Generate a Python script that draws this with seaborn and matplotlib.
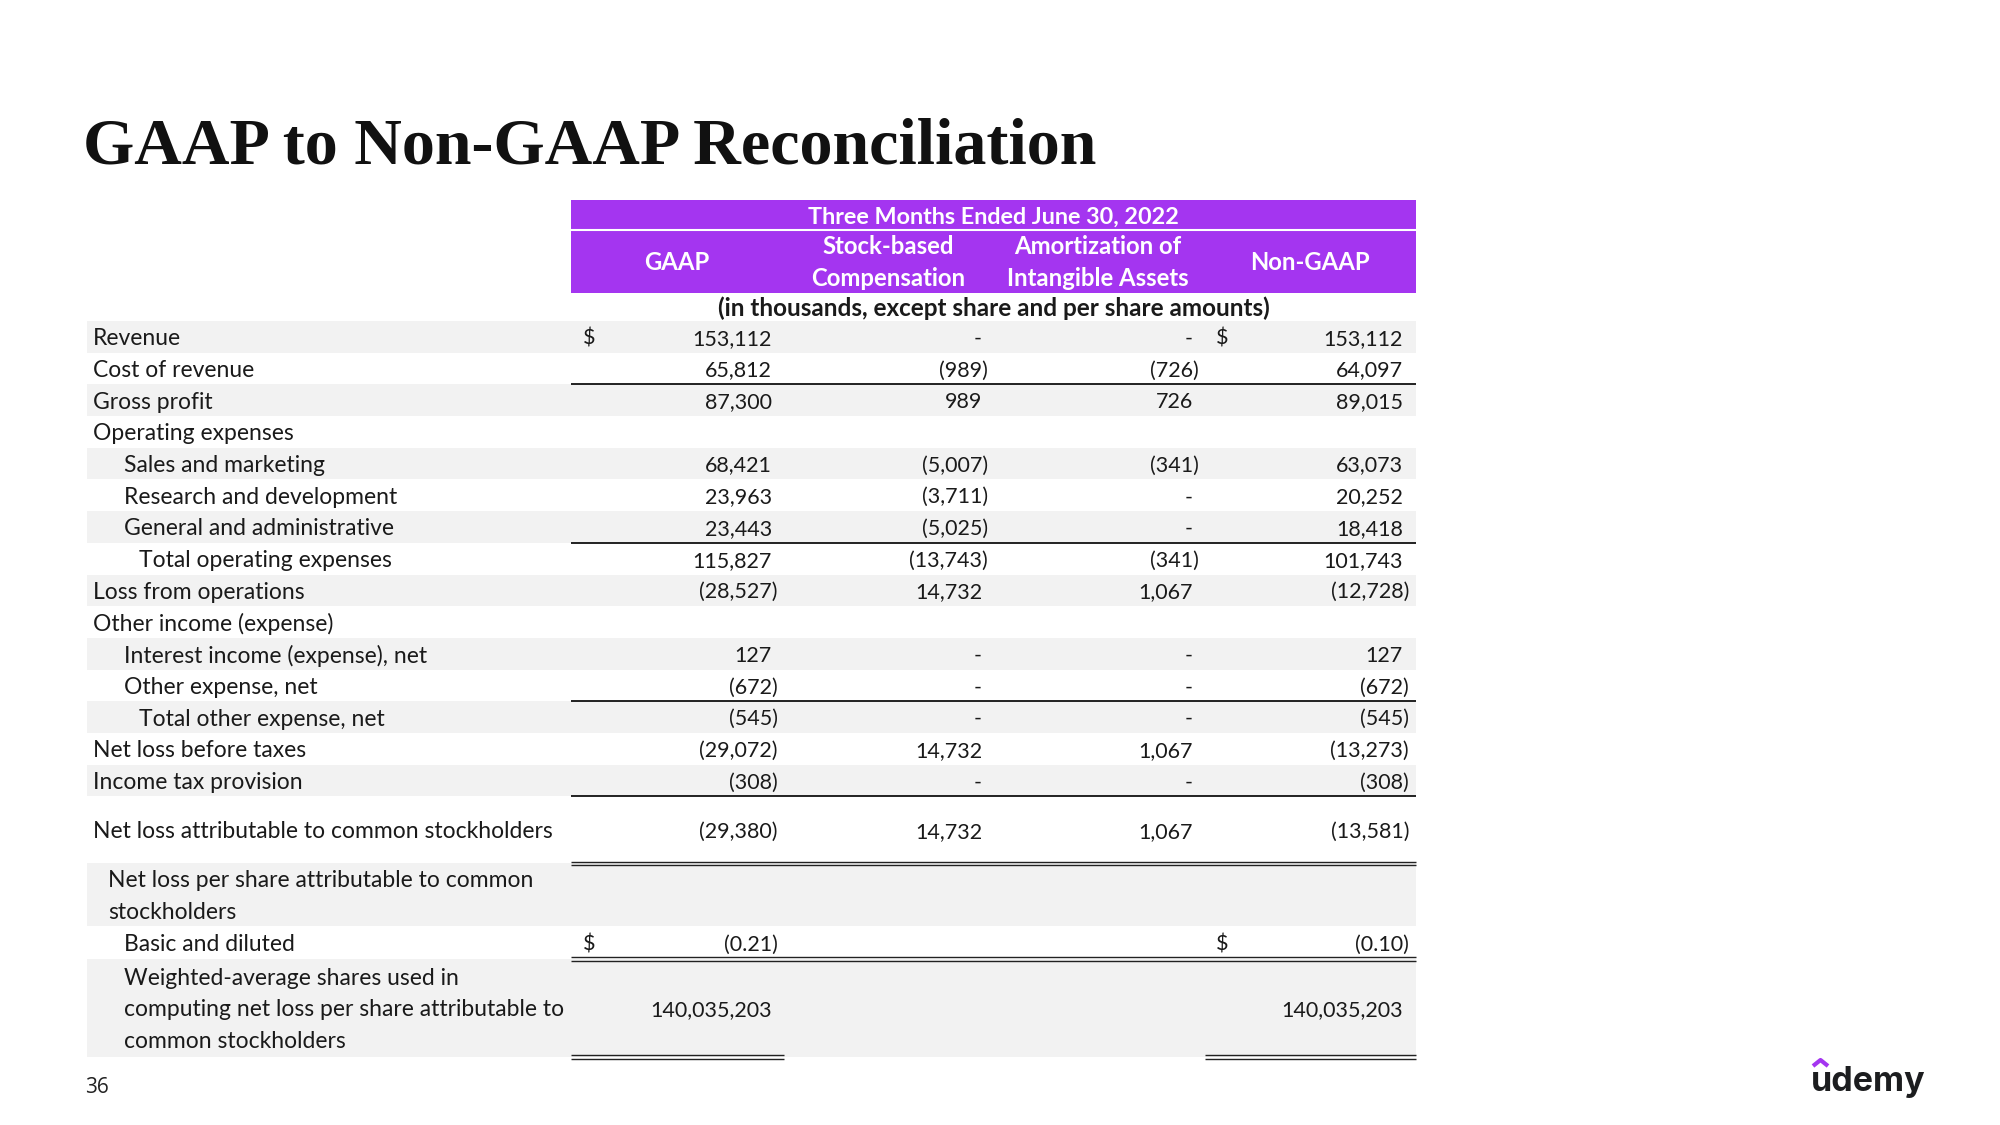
import matplotlib.pyplot as plt
import seaborn as sns

# table content
title = 'GAAP to Non-GAAP Reconciliation'
period = 'Three Months Ended June 30, 2022'
units_note = '(in thousands, except share and per share amounts)'
col_headers = ['GAAP', 'Stock-based\nCompensation', 'Amortization of\nIntangible Assets', 'Non-GAAP']
page_no = '36'

row_labels = [
    'Revenue', 'Cost of revenue', 'Gross profit', 'Operating expenses',
    'Sales and marketing', 'Research and development', 'General and administrative',
    'Total operating expenses', 'Loss from operations', 'Other income (expense)',
    'Interest income (expense), net', 'Other expense, net', 'Total other expense, net',
    'Net loss before taxes', 'Income tax provision',
    'Net loss attributable to common stockholders',
    'Net loss per share attributable to common\nstockholders',
    'Basic and diluted',
    'Weighted-average shares used in\ncomputing net loss per share attributable to\ncommon stockholders',
]
gaap = [153112, 65812, 87300, None, 68421, 23963, 23443, 115827, -28527, None,
        127, -672, -545, -29072, -308, -29380, None, -0.21, 140035203]
stock_comp = [0, -989, 989, None, -5007, -3711, -5025, -13743, 14732, None,
              0, 0, 0, 14732, 0, 14732, None, None, None]
amortization = [0, -726, 726, None, -341, 0, 0, -341, 1067, None,
                0, 0, 0, 1067, 0, 1067, None, None, None]
non_gaap = [153112, 64097, 89015, None, 63073, 20252, 18418, 101743, -12728, None,
            127, -672, -545, -13273, -308, -13581, None, -0.10, 140035203]
dollar_rows = ['Revenue', 'Basic and diluted']

# layout (pixels)
indent_px = [0, 0, 0, 0, 31, 31, 31, 46, 0, 0, 31, 31, 46, 0, 0, 0, 15, 31, 31]
row_h = [31.7] * 15 + [67, 63, 32.5, 98]
line_h = 31.9
single_under = ['Cost of revenue', 'General and administrative', 'Other expense, net',
                'Income tax provision']
double_under = ['Net loss attributable to common stockholders', 'Basic and diluted']

PURPLE = '#A435F0'
GREY = '#F2F2F2'
TXT = '#1a1a1a'
BODY = 'Lato'
FS_LAB = 16.5
FS_NUM = 15.5
FS_HEAD = 17.2

col_right = [772, 982, 1193, 1403]
col_center = [677, 888, 1098, 1310]
dollar_x = [589, 1222]
tab_l, tab_r = 571, 1416
lab_x0, band_l = 93, 87
body_top = 320.9


def fmt(v):
    if v is None:
        return ''
    if v == 0:
        return '-'
    if isinstance(v, float):
        s = f'{abs(v):.2f}'
    else:
        s = f'{abs(v):,}'
    return f'({s})' if v < 0 else s


sns.set_theme(style='white')
plt.rcParams['font.family'] = [BODY, 'DejaVu Sans']

fig = plt.figure(figsize=(20, 11.25), dpi=100)
ax = fig.add_axes([0, 0, 1, 1])
ax.set_xlim(0, 2000)
ax.set_ylim(1125, 0)
ax.axis('off')

# title
ax.text(83, 163, title, fontsize=47.5, fontweight='bold', color='#111111',
        family=['Liberation Serif', 'DejaVu Serif'], ha='left', va='baseline')

# header block
ax.fill_between([tab_l, tab_r], 200, 293, color=PURPLE, lw=0)
ax.hlines(229.5, tab_l, tab_r, color='white', lw=1.5)
ax.text((tab_l + tab_r) / 2, 215, period, color='white', fontsize=FS_HEAD - 0.4,
        fontweight='bold', ha='center', va='center_baseline')
for cx, h in zip(col_center, col_headers):
    lines = h.split('\n')
    ys = [261] if len(lines) == 1 else [245, 277]
    for y, ln in zip(ys, lines):
        ax.text(cx, y, ln, color='white', fontsize=FS_HEAD, fontweight='bold',
                ha='center', va='center_baseline')
ax.text((tab_l + tab_r) / 2, 306, units_note, color=TXT, fontsize=FS_HEAD + 0.3,
        fontweight='bold', ha='center', va='center_baseline')

# body rows
top = body_top
cols = [gaap, stock_comp, amortization, non_gaap]
for i, lab in enumerate(row_labels):
    h = row_h[i]
    bot = top + h
    yc = top + h / 2
    if i % 2 == 0:
        ax.fill_between([band_l, tab_r], top, bot, color=GREY, lw=0)
    lines = lab.split('\n')
    n = len(lines)
    for k, ln in enumerate(lines):
        ax.text(lab_x0 + indent_px[i], yc + (k - (n - 1) / 2) * line_h, ln,
                fontsize=FS_LAB, color=TXT, ha='left', va='center_baseline')
    for c, vals in enumerate(cols):
        s = fmt(vals[i])
        if not s:
            continue
        x = col_right[c] + (6 if s.endswith(')') else 0)
        ax.text(x, yc, s, fontsize=FS_NUM, color=TXT, ha='right', va='center_baseline')
    if lab in dollar_rows:
        for dx in dollar_x:
            ax.text(dx, yc, '$', fontsize=FS_NUM, color=TXT, ha='center',
                    va='center_baseline')
    if lab in single_under:
        ax.hlines(bot, tab_l, tab_r, color='#111111', lw=1.3)
    if lab in double_under:
        ax.hlines([bot - 1.6, bot + 1.6], tab_l, tab_r, color='#222222', lw=1.0)
    top = bot

# closing double rules under the share counts
for x0, x1 in [(571, 784), (1205, 1416)]:
    ax.hlines([top - 1.6, top + 1.6], x0, x1, color='#222222', lw=1.0)

# footer
ax.text(97, 1085, page_no, fontsize=15, color='#222222', family=['Open Sans', 'DejaVu Sans'],
        ha='center', va='center_baseline')
ax.text(1811, 1091, 'udemy', fontsize=24.5, fontweight='bold', color='#1c1d1f',
        family=['Inter', 'DejaVu Sans'], ha='left', va='baseline')
ax.plot([1813, 1820.5, 1828], [1066, 1060, 1066], color=PURPLE, lw=3, solid_capstyle='butt')

fig.savefig('out.png', dpi=100)
